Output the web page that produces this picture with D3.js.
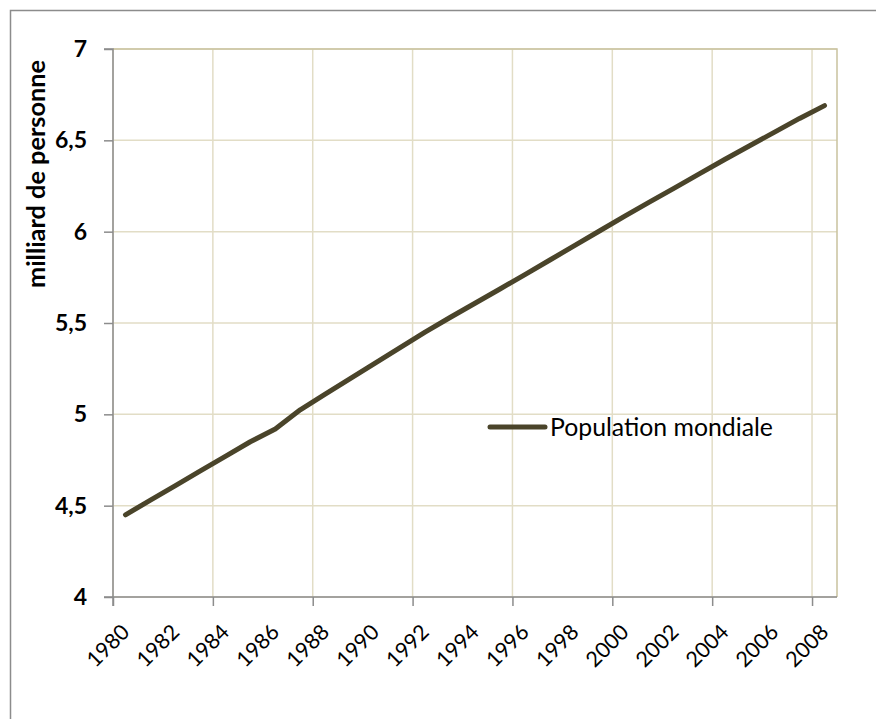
<!DOCTYPE html>
<html>
<head>
<meta charset="utf-8">
<script src="https://cdn.jsdelivr.net/npm/d3@7"></script>
<style>
  body { margin: 0; background: #fff; }
  text { font-family: Lato, "Open Sans", sans-serif; fill: #000; }
</style>
</head>
<body>
<div id="chart"></div>
<script>
// world population, one value a year (plotted at mid-year)
const years = [1980, 1981, 1982, 1983, 1984, 1985, 1986, 1987, 1988, 1989,
               1990, 1991, 1992, 1993, 1994, 1995, 1996, 1997, 1998, 1999,
               2000, 2001, 2002, 2003, 2004, 2005, 2006, 2007, 2008];
const population = [4.45, 4.53, 4.61, 4.69, 4.77, 4.85, 4.92, 5.025, 5.11, 5.195,
                    5.28, 5.365, 5.45, 5.53, 5.608, 5.686, 5.765, 5.845, 5.925, 6.005,
                    6.085, 6.163, 6.24, 6.318, 6.395, 6.47, 6.545, 6.62, 6.69];
const yTicks = [4, 4.5, 5, 5.5, 6, 6.5, 7];
const xLabels = d3.range(1980, 2009, 2);
const xGrid = d3.range(1980, 2009, 4);
const seriesName = "Population mondiale";
const yTitle = "milliard de personne";

const data = years.map((y, i) => ({ year: y, value: population[i] }));

const w = 876, h = 719;
const m = { top: 49, right: 39, bottom: 122, left: 113 };
const gw = w - m.left - m.right, gh = h - m.top - m.bottom;

const svg = d3.select("#chart").append("svg")
    .attr("width", w).attr("height", h);

// outer chart frame (right/bottom sides fall outside the picture)
svg.append("rect")
    .attr("x", 10.5).attr("y", 10.5)
    .attr("width", w + 20).attr("height", h + 20)
    .attr("fill", "none").attr("stroke", "#8c8c8c").attr("stroke-width", 1.5);

const g = svg.append("g").attr("transform", `translate(${m.left},${m.top})`);

const xS = d3.scaleLinear().domain([1980, 2009]).range([0, gw]);
const yS = d3.scaleLinear().domain([4, 7]).range([gh, 0]);

// gridlines
g.selectAll(".hgrid").data(yTicks).enter().append("line")
    .attr("x1", 0).attr("x2", gw)
    .attr("y1", d => yS(d)).attr("y2", d => yS(d))
    .attr("stroke", "#e2ddc6").attr("stroke-width", 1.5);
g.selectAll(".vgrid").data(xGrid).enter().append("line")
    .attr("x1", d => xS(d)).attr("x2", d => xS(d))
    .attr("y1", 0).attr("y2", gh)
    .attr("stroke", "#e2ddc6").attr("stroke-width", 1.5);

// plot area border top/right
g.append("path")
    .attr("d", `M0,0H${gw}V${gh}`)
    .attr("fill", "none").attr("stroke", "#c9c29f").attr("stroke-width", 1.5);

// axes
const yAxis = g.append("g")
    .call(d3.axisLeft(yS).tickValues(yTicks).tickSize(9).tickFormat(d => String(d).replace(".", ",")));
const xAxis = g.append("g").attr("transform", `translate(0,${gh})`)
    .call(d3.axisBottom(xS).tickValues(xGrid).tickSize(9).tickFormat(""));
[yAxis, xAxis].forEach(a => {
    a.selectAll("path, line").attr("stroke", "#8c8c8c").attr("stroke-width", 1.5);
});
yAxis.select(".domain").attr("d", `M-9,${gh}H0V0H-9`);
xAxis.select(".domain").attr("d", `M0,9V0H${gw}`);
yAxis.selectAll("text")
    .attr("x", -26).attr("font-size", 23).attr("font-weight", "bold")
    .style("font-family", "Lato, sans-serif");

// x labels, rotated, centred on the middle of each year
g.selectAll(".xlab").data(xLabels).enter().append("text")
    .attr("transform", d => `translate(${xS(d + 0.5)},${gh + 31}) rotate(-45)`)
    .attr("text-anchor", "end").attr("dy", "0.35em")
    .attr("font-size", 21.5)
    .text(d => d);

// y title
svg.append("text")
    .attr("transform", `translate(36,174) rotate(-90)`)
    .attr("text-anchor", "middle").attr("dy", "0.35em")
    .attr("font-size", 25.3).attr("font-weight", "bold")
    .text(yTitle);

// series line
const line = d3.line().x(d => xS(d.year + 0.5)).y(d => yS(d.value));
g.append("path").datum(data)
    .attr("d", line)
    .attr("fill", "none").attr("stroke", "#4a442a")
    .attr("stroke-width", 5).attr("stroke-linecap", "round").attr("stroke-linejoin", "round");

// legend
const lg = svg.append("g").attr("transform", "translate(490,427)");
lg.append("line").attr("x1", 0).attr("x2", 55)
    .attr("stroke", "#4a442a").attr("stroke-width", 5).attr("stroke-linecap", "round");
lg.append("text").attr("x", 60).attr("dy", "0.35em")
    .attr("font-size", 24.8)
    .text(seriesName);
</script>
</body>
</html>
